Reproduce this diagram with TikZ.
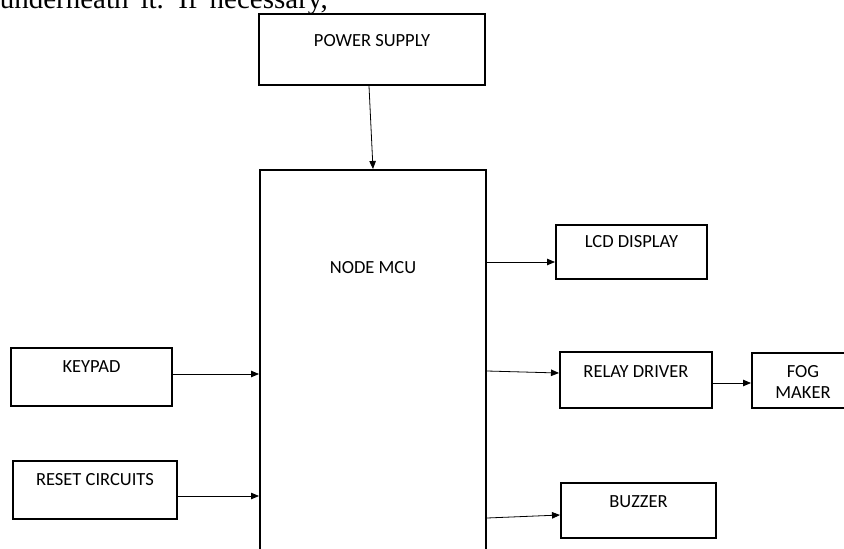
\documentclass[tikz,border=0pt]{standalone}
\usepackage{fontspec}
\setmainfont{Carlito}
\newfontfamily\serifface{Liberation Serif}
\usepackage{tikz}
\usetikzlibrary{arrows.meta,positioning}

\begin{document}
\begin{tikzpicture}[x=1pt,y=-1pt,
box/.style={draw,line width=2pt,inner sep=0pt,font=\fontsize{18.5}{21}\selectfont},
lbl/.style={anchor=north,align=center,font=\fontsize{18.5}{21}\selectfont},
arr/.style={-{Triangle[length=8pt,width=6.5pt]},line width=0.8pt}]
\useasboundingbox (0,0) rectangle (844,549);
\clip (0,0) rectangle (844,549);
\node[anchor=base east,inner sep=0pt,font=\serifface\fontsize{29}{35}\selectfont] (toptext) at (328,8.5) {\spaceskip=12pt underneath it. If necessary,};
\node[box,minimum width=226pt,minimum height=71pt,label={[lbl,yshift=-18pt]north:POWER SUPPLY}] (power) at (372,49.5) {};
\node[box,minimum width=226pt,minimum height=430pt,label={[lbl,yshift=-89pt]north:NODE MCU}] (mcu) at (373,385) {};
\node[box,minimum width=161pt,minimum height=58pt,label={[lbl,yshift=-10pt]north:KEYPAD}] (keypad) at (91.5,377) {};
\node[box,minimum width=164pt,minimum height=58pt,label={[lbl,yshift=-10pt]north:RESET CIRCUITS}] (reset) at (95,490) {};
\node[box,minimum width=151pt,minimum height=54pt,label={[lbl,yshift=-8pt]north:LCD DISPLAY}] (lcd) at (631.5,252) {};
\node[box,minimum width=152pt,minimum height=56pt,label={[lbl,yshift=-11pt]north:RELAY DRIVER}] (relay) at (636,380) {};
\node[box,minimum width=102pt,minimum height=55pt,label={[lbl,yshift=-10pt]north:FOG\\MAKER}] (fog) at (803,380.5) {};
\node[box,minimum width=155pt,minimum height=55pt,label={[lbl,yshift=-10pt]north:BUZZER}] (buzzer) at (638.5,510.5) {};
% connectors
\draw[arr] ([xshift=-3pt]power.south) -- (mcu.north);
\draw[arr] ([yshift=3pt]keypad.east) -- ([yshift=3pt]keypad.east -| mcu.west);
\draw[arr] ([yshift=-6pt]reset.east) -- ([yshift=-6pt]reset.east -| mcu.west);
\draw[arr] ([yshift=-10pt]lcd.west -| mcu.east) -- ([yshift=-10pt]lcd.west);
\draw[arr] ([yshift=9pt]relay.west -| mcu.east) -- ([yshift=7pt]relay.west);
\draw[arr] ([yshift=-3pt]relay.east) -- ([yshift=-3pt]relay.east -| fog.west);
\draw[arr] ([yshift=-7.5pt]buzzer.west -| mcu.east) -- ([yshift=-4.5pt]buzzer.west);
\end{tikzpicture}
\end{document}
